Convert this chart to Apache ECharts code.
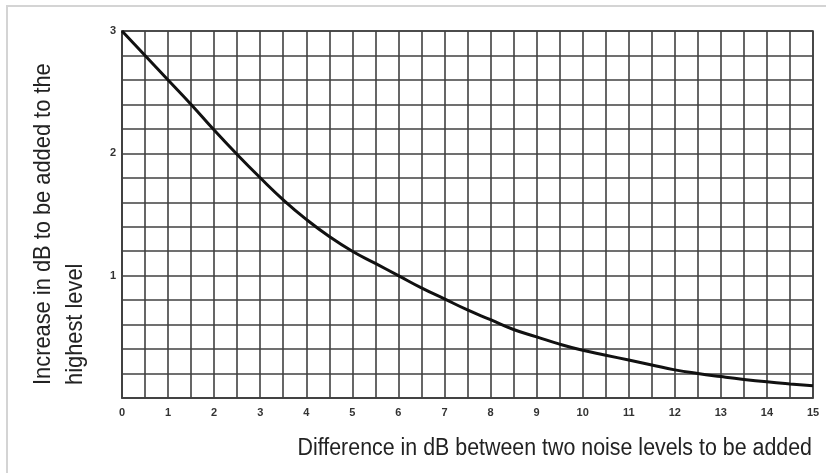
<!DOCTYPE html>
<html>
<head>
<meta charset="utf-8">
<script src="https://cdn.jsdelivr.net/npm/echarts@6/dist/echarts.min.js"></script>
<style>
html,body{margin:0;padding:0;background:#fff;}
#chart{width:826px;height:473px;}
</style>
</head>
<body>
<div id="chart"></div>
<script>
// Data
var levelDifference = [0, 0.5, 1, 1.5, 2, 2.5, 3, 3.5, 4, 4.5, 5, 5.5, 6, 6.5, 7, 7.5, 8, 8.5, 9, 9.5, 10, 10.5, 11, 11.5, 12, 12.5, 13, 13.5, 14, 14.5, 15];
var increase = [3.0, 2.8, 2.6, 2.4, 2.19, 1.99, 1.80, 1.62, 1.46, 1.32, 1.2, 1.1, 1.0, 0.9, 0.81, 0.72, 0.64, 0.56, 0.5, 0.44, 0.39, 0.35, 0.31, 0.27, 0.23, 0.2, 0.175, 0.152, 0.132, 0.115, 0.10];
var xTickLabels = ['0','1','2','3','4','5','6','7','8','9','10','11','12','13','14','15'];
var yTickLabels = ['1','2','3'];
var xAxisTitle = 'Difference in dB between two noise levels to be added';
var yAxisTitle = 'Increase in dB to be added to the\nhighest level';

var points = levelDifference.map(function (x, i) { return [x, increase[i]]; });
function isInt(v) { return Math.abs(v - Math.round(v)) < 1e-6; }

var chart = echarts.init(document.getElementById('chart'), null, {renderer: 'canvas'});
var gridLine = {show: true, lineStyle: {color: '#404040', width: 1.6}};
var titleFont = 'Liberation Sans, Arial, Helvetica, sans-serif';
chart.setOption({
  animation: false,
  backgroundColor: '#ffffff',
  grid: {left: 122, right: 13, top: 31, bottom: 75, show: true, borderColor: '#404040', borderWidth: 1.6},
  xAxis: {
    type: 'value', min: 0, max: 15, interval: 0.5,
    axisLine: {show: true, onZero: false, lineStyle: {color: '#404040', width: 1.6}},
    axisTick: {show: false},
    splitLine: gridLine,
    axisLabel: {
      margin: 9, color: '#333', fontSize: 11, fontWeight: 'bold', fontFamily: 'Liberation Sans, Arial, sans-serif',
      formatter: function (v) { var s = String(Math.round(v)); return isInt(v) && xTickLabels.indexOf(s) >= 0 ? s : ''; }
    }
  },
  yAxis: {
    type: 'value', min: 0, max: 3, interval: 0.2,
    axisLine: {show: true, lineStyle: {color: '#404040', width: 1.6}},
    axisTick: {show: false},
    splitLine: gridLine,
    axisLabel: {
      margin: 6, color: '#333', fontSize: 11, fontWeight: 'bold', fontFamily: 'Liberation Sans, Arial, sans-serif',
      formatter: function (v) { var s = String(Math.round(v)); return isInt(v) && yTickLabels.indexOf(s) >= 0 ? s : ''; }
    }
  },
  graphic: [
    {type: 'rect', shape: {x: 7, y: 6, width: 900, height: 600}, style: {fill: 'none', stroke: '#d4d4d4', lineWidth: 2}, silent: true, z: -10},
    {type: 'text', x: 59, y: 385, rotation: Math.PI / 2, scaleX: 0.91,
     style: {text: yAxisTitle, fontSize: 24, lineHeight: 32, fill: '#222', align: 'left', verticalAlign: 'middle', fontFamily: titleFont}},
    {type: 'text', x: 812, y: 449, scaleX: 0.93,
     style: {text: xAxisTitle, fontSize: 23, fill: '#222', align: 'right', verticalAlign: 'middle', fontFamily: titleFont}}
  ],
  series: [{
    type: 'line', data: points, smooth: 0.5, showSymbol: false,
    lineStyle: {color: '#111', width: 3}
  }]
});
</script>
</body>
</html>
